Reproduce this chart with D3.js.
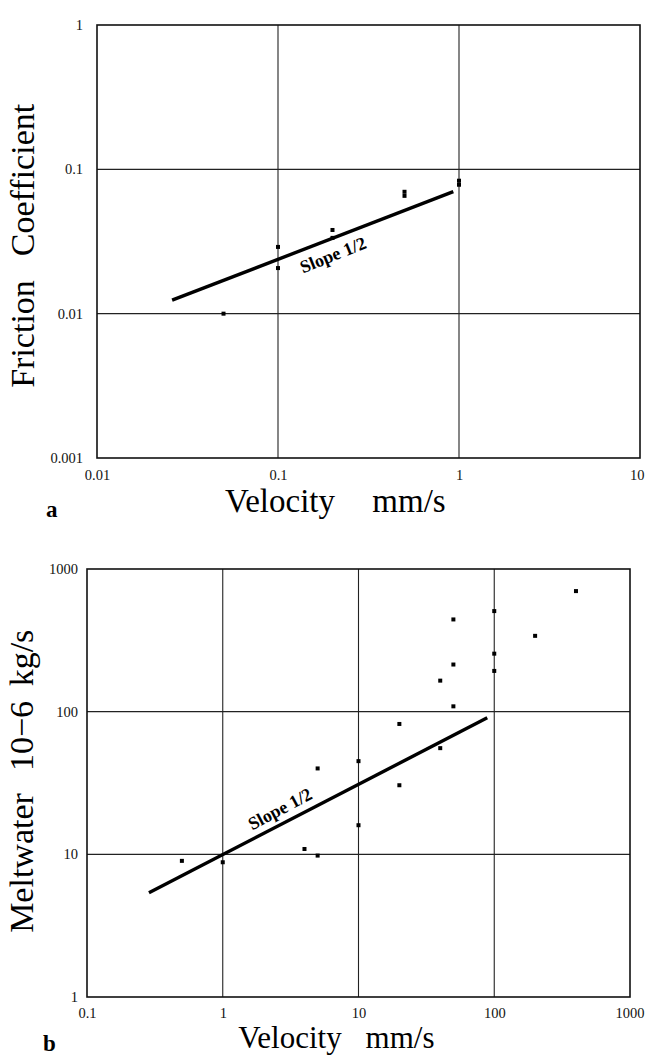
<!DOCTYPE html>
<html>
<head>
<meta charset="utf-8">
<script src="https://cdn.jsdelivr.net/npm/d3@7"></script>
<style>
  html, body { margin: 0; padding: 0; background: #ffffff; }
  svg { display: block; font-family: "Liberation Serif", "Times New Roman", serif; }
</style>
</head>
<body>
<svg id="chart" width="646" height="1057"></svg>
<script>
// ---------- Panel a data ----------
const aTicksX = [0.01, 0.1, 1, 10];
const aTickLabelsX = ["0.01", "0.1", "1", "10"];
const aTicksY = [0.001, 0.01, 0.1, 1];
const aTickLabelsY = ["0.001", "0.01", "0.1", "1"];
const aVelocity = [0.05, 0.1, 0.1, 0.2, 0.2, 0.5, 0.5, 1, 1];
const aFriction = [0.010, 0.029, 0.0207, 0.038, 0.0335, 0.0655, 0.0699, 0.0782, 0.0834];
const aLineVelocity = [0.026, 0.93];
const aLineFriction = [0.0124, 0.070];

// ---------- Panel b data ----------
const bTicksX = [0.1, 1, 10, 100, 1000];
const bTickLabelsX = ["0.1", "1", "10", "100", "1000"];
const bTicksY = [1, 10, 100, 1000];
const bTickLabelsY = ["1", "10", "100", "1000"];
const bVelocity = [0.5, 1, 4, 5, 5, 10, 10, 20, 20, 40, 50, 40, 50, 50, 100, 100, 100, 200, 400];
const bMeltwater = [9.0, 8.8, 10.9, 9.8, 40, 45, 16, 82, 30.5, 55.5, 109, 165, 214, 443, 507, 255, 193, 340, 700];
const bLineVelocity = [0.286, 88.8];
const bLineMeltwater = [5.38, 90.6];

const svg = d3.select("#chart");
const W = 646;

function panel(cfg) {
  const g = svg.append("g");
  const x = d3.scaleLog().domain(cfg.xDomain).range([cfg.left, cfg.right]);
  const y = d3.scaleLog().domain(cfg.yDomain).range([cfg.bottom, cfg.top]);

  // grid lines (interior decades)
  g.selectAll("line.gx").data(cfg.ticksX.slice(1, -1)).enter().append("line")
    .attr("x1", d => x(d)).attr("x2", d => x(d))
    .attr("y1", cfg.top).attr("y2", cfg.bottom)
    .attr("stroke", "#222").attr("stroke-width", 1.1);
  g.selectAll("line.gy").data(cfg.ticksY.slice(1, -1)).enter().append("line")
    .attr("x1", cfg.left).attr("x2", cfg.right)
    .attr("y1", d => y(d)).attr("y2", d => y(d))
    .attr("stroke", "#222").attr("stroke-width", 1.1);

  // frame
  g.append("rect")
    .attr("x", cfg.left).attr("y", cfg.top)
    .attr("width", cfg.right - cfg.left).attr("height", cfg.bottom - cfg.top)
    .attr("fill", "none").attr("stroke", "#111").attr("stroke-width", 1.6);

  // axes (labels only)
  const ax = g.append("g").attr("transform", `translate(0,${cfg.bottom})`)
    .call(d3.axisBottom(x).tickValues(cfg.ticksX)
      .tickFormat((d, i) => cfg.tickLabelsX[i]).tickSize(0).tickPadding(cfg.xPad));
  const ay = g.append("g").attr("transform", `translate(${cfg.left},0)`)
    .call(d3.axisLeft(y).tickValues(cfg.ticksY)
      .tickFormat((d, i) => cfg.tickLabelsY[i]).tickSize(0).tickPadding(cfg.yPad));
  [ax, ay].forEach(a => {
    a.select(".domain").remove();
    a.selectAll("text").attr("font-family", "Liberation Serif, serif")
      .attr("font-size", 14.5).attr("fill", "#111");
  });
  // keep the right-most x label inside the page
  ax.selectAll(".tick text").each(function () {
    const bb = this.getBBox();
    const tx = x(d3.select(this.parentNode).datum());
    const overflow = tx + bb.x + bb.width - (W - 2);
    if (overflow > 0) d3.select(this).attr("dx", -overflow);
  });

  // fit line
  const lineData = cfg.lineX.map((v, i) => [v, cfg.lineY[i]]);
  g.append("path").datum(lineData)
    .attr("d", d3.line().x(d => x(d[0])).y(d => y(d[1])))
    .attr("fill", "none").attr("stroke", "#000").attr("stroke-width", 3.4)
    .attr("stroke-linecap", "butt");

  // points
  const pts = cfg.px.map((v, i) => [v, cfg.py[i]]);
  g.selectAll("rect.pt").data(pts).enter().append("rect")
    .attr("x", d => x(d[0]) - 2).attr("y", d => y(d[1]) - 2)
    .attr("width", 4).attr("height", 4).attr("fill", "#000");

  // slope label
  g.append("text")
    .attr("transform", `translate(${cfg.slopePos[0]},${cfg.slopePos[1]}) rotate(${cfg.slopeAngle})`)
    .attr("text-anchor", "middle").attr("dominant-baseline", "central")
    .attr("font-size", 18).attr("font-weight", "bold").attr("fill", "#000")
    .text("Slope 1/2");

  // x title
  cfg.xTitle.forEach(t => {
    g.append("text").attr("x", t.cx).attr("y", cfg.xTitleBase)
      .attr("text-anchor", "middle").attr("font-size", cfg.xTitleSize).attr("fill", "#000")
      .text(t.s);
  });
  // y title
  cfg.yTitle.forEach(t => {
    g.append("text")
      .attr("transform", `translate(${cfg.yTitleBase},${t.cy}) rotate(-90)`)
      .attr("text-anchor", "middle").attr("font-size", 34).attr("fill", "#000")
      .text(t.s);
  });
  // panel letter
  g.append("text").attr("x", cfg.letterPos[0]).attr("y", cfg.letterPos[1])
    .attr("font-size", 23).attr("font-weight", "bold").attr("fill", "#000")
    .text(cfg.letter);
}

panel({
  left: 97, right: 640, top: 25, bottom: 458,
  xDomain: [0.01, 10], yDomain: [0.001, 1],
  ticksX: aTicksX, tickLabelsX: aTickLabelsX,
  ticksY: aTicksY, tickLabelsY: aTickLabelsY,
  xPad: 12, yPad: 14,
  px: aVelocity, py: aFriction,
  lineX: aLineVelocity, lineY: aLineFriction,
  slopePos: [333, 255], slopeAngle: -22,
  xTitle: [{ s: "Velocity", cx: 280 }, { s: "mm/s", cx: 409 }],
  xTitleBase: 512, xTitleSize: 33,
  yTitle: [{ s: "Friction", cy: 334 }, { s: "Coefficient", cy: 180 }],
  yTitleBase: 34,
  letter: "a", letterPos: [46, 517]
});

panel({
  left: 87, right: 630, top: 569, bottom: 997,
  xDomain: [0.1, 1000], yDomain: [1, 1000],
  ticksX: bTicksX, tickLabelsX: bTickLabelsX,
  ticksY: bTicksY, tickLabelsY: bTickLabelsY,
  xPad: 11, yPad: 9,
  px: bVelocity, py: bMeltwater,
  lineX: bLineVelocity, lineY: bLineMeltwater,
  slopePos: [280, 809], slopeAngle: -28,
  xTitle: [{ s: "Velocity", cx: 290 }, { s: "mm/s", cx: 400 }],
  xTitleBase: 1048, xTitleSize: 31,
  yTitle: [{ s: "Meltwater", cy: 863 }, { s: "10\u22126", cy: 736 }, { s: "kg/s", cy: 658 }],
  yTitleBase: 33,
  letter: "b", letterPos: [43, 1051]
});
</script>
</body>
</html>
